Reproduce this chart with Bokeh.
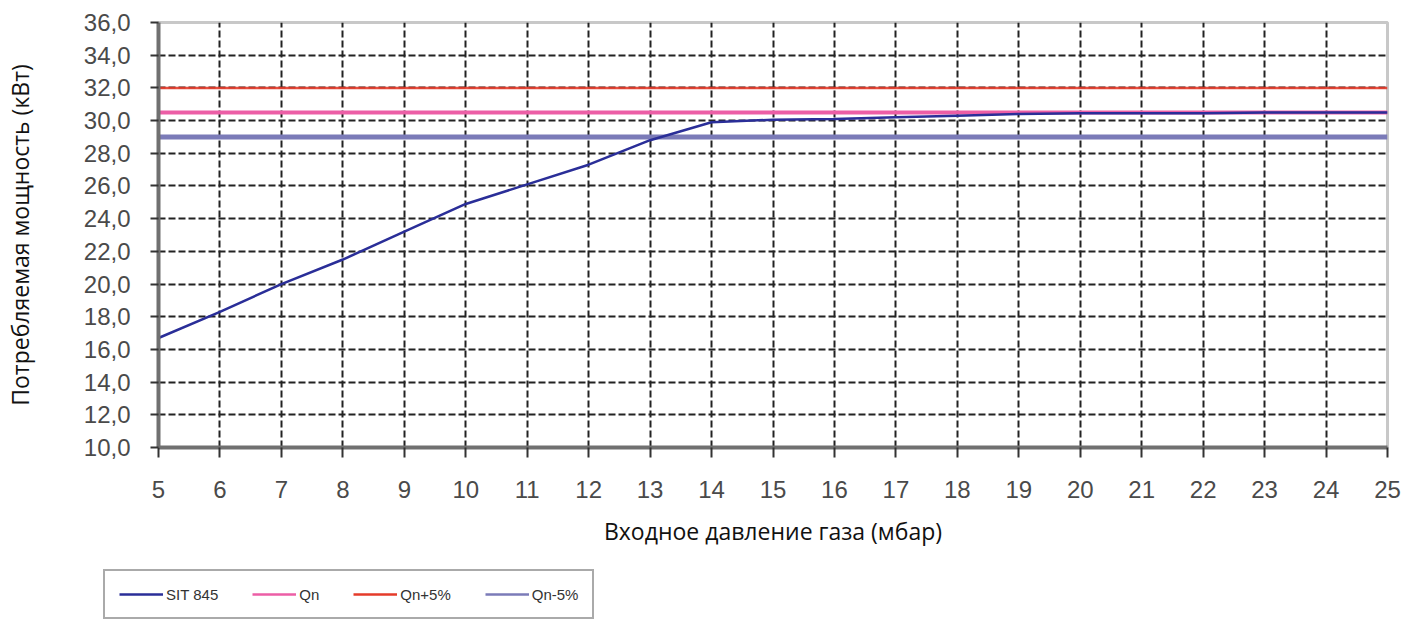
from bokeh.plotting import figure
from bokeh.models import FixedTicker, Legend, LegendItem
from bokeh.layouts import column, row
from bokeh.embed import file_html
from bokeh.resources import INLINE

# ---- data ----
pressure = [5, 6, 7, 8, 9, 10, 11, 12, 13, 14, 15, 16, 17, 18, 19, 20, 21, 22, 23, 24, 25]
sit845 = [16.7, 18.3, 20.0, 21.5, 23.2, 24.9, 26.1, 27.3, 28.8, 29.9, 30.05, 30.1, 30.2, 30.3,
          30.4, 30.45, 30.45, 30.45, 30.5, 30.5, 30.5]
qn = [30.5] * len(pressure)
qn_plus5 = [32.0] * len(pressure)
qn_minus5 = [29.0] * len(pressure)

x_ticks = list(range(5, 26))
y_ticks = list(range(10, 37, 2))
y_tick_labels = {v: f"{v},0" for v in y_ticks}
x_title = "Входное давление газа (мбар)"
y_title = "Потребляемая мощность (кВт)"
series_names = ["SIT 845", "Qn", "Qn+5%", "Qn-5%"]
series_colors = ["#2a2e98", "#ec5ea6", "#e53b2a", "#7b7bb8"]
series_widths = [2.5, 4, 2.5, 5]

W = 1405
p = figure(width=W, height=560, x_range=(5, 25), y_range=(10, 36),
           output_backend="svg", toolbar_location=None,
           min_border_left=158, min_border_right=18, min_border_top=22, min_border_bottom=113)

p.outline_line_color = "#c8c8c8"
p.outline_line_width = 3

for ax in (p.xaxis[0], p.yaxis[0]):
    ax.axis_line_color = "#707070"
    ax.axis_line_width = 4
    ax.major_tick_line_color = "#333333"
    ax.major_tick_line_width = 2
    ax.major_tick_in = 0
    ax.minor_tick_line_color = None
    ax.major_label_text_font = "Liberation Sans"
    ax.major_label_text_font_size = "24px"
    ax.major_label_text_color = "#4a4a4a"
    ax.axis_label_text_font = "Open Sans"
    ax.axis_label_text_font_size = "23px"
    ax.axis_label_text_font_style = "normal"
    ax.axis_label_text_color = "#111111"

p.xaxis.ticker = FixedTicker(ticks=x_ticks)
p.yaxis.ticker = FixedTicker(ticks=y_ticks)
p.yaxis.major_label_overrides = y_tick_labels
p.xaxis.major_tick_out = 10
p.yaxis.major_tick_out = 8
p.xaxis.major_label_standoff = 23
p.yaxis.major_label_standoff = 20
p.xaxis.axis_label = x_title
p.yaxis.axis_label = y_title
p.xaxis.axis_label_standoff = 14
p.yaxis.axis_label_standoff = 45

for g in (p.xgrid[0], p.ygrid[0]):
    g.grid_line_color = "#222222"
    g.grid_line_width = 2
    g.grid_line_dash = "7 3"

p.line(pressure, qn_minus5, line_color=series_colors[3], line_width=series_widths[3])
p.line(pressure, qn, line_color=series_colors[1], line_width=series_widths[1])
p.line(pressure, qn_plus5, line_color=series_colors[2], line_width=series_widths[2], line_alpha=0.9)
p.line(pressure, sit845, line_color=series_colors[0], line_width=series_widths[0])

# legend panel below the chart
p2 = figure(width=W, height=60, x_range=(0, 1), y_range=(0, 1),
            output_backend="svg", toolbar_location=None,
            x_axis_location=None, y_axis_location=None, min_border=0)
p2.outline_line_color = None
p2.xgrid.visible = False
p2.ygrid.visible = False
items = []
for name, c in zip(series_names, series_colors):
    r = p2.line(x=[-5], y=[-5], line_color=c, line_width=2.5)
    items.append(LegendItem(label=name, renderers=[r]))

legend = Legend(items=items, orientation="horizontal", location=(103, 1))
legend.border_line_color = "#555555"
legend.border_line_width = 2
legend.background_fill_color = "white"
legend.background_fill_alpha = 1
legend.label_text_font = "Liberation Sans"
legend.label_text_font_size = "15px"
legend.label_text_color = "#333333"
legend.glyph_width = 44
legend.glyph_height = 18
legend.label_height = 18
legend.label_standoff = 3
legend.spacing = 34
legend.padding = 14
legend.margin = 0
p2.add_layout(legend, "center")

open("out.html", "w").write(file_html(column(p, row(p2), spacing=0), INLINE))
